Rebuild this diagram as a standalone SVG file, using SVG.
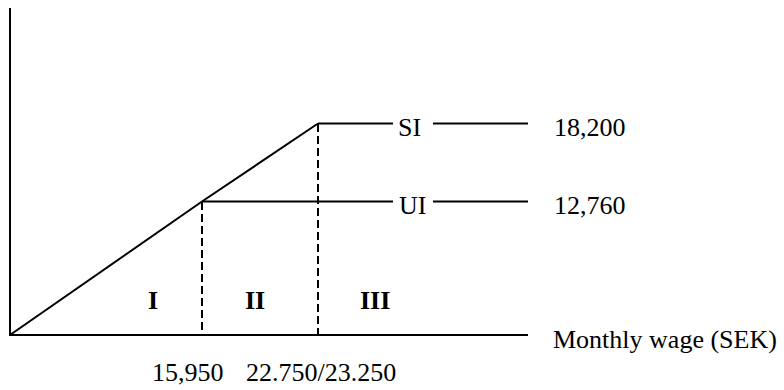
<svg xmlns="http://www.w3.org/2000/svg" width="784" height="390" viewBox="0 0 784 390">
<style>
.ln{stroke:#000;stroke-width:2;fill:none}
.ds{stroke:#000;stroke-width:2;fill:none;stroke-dasharray:8,4}
.t{font-family:"Liberation Serif","Times New Roman",serif;font-size:26px;fill:#000}
.b{font-family:"Liberation Serif","Times New Roman",serif;font-size:26px;font-weight:bold;fill:#000}
</style>
<rect width="784" height="390" fill="#fff"/>
<g id="axes">
<line class="ln" x1="10" y1="8" x2="10" y2="335"/>
<line class="ln" x1="9" y1="335" x2="528" y2="335"/>
</g>
<g id="connectors">
<polyline class="ln" points="10,335 202,201.5 318,123.5"/>
<line class="ds" x1="202" y1="202" x2="202" y2="334"/>
<line class="ds" x1="318" y1="124" x2="318" y2="334"/>
</g>
<g id="SI">
<line class="ln" x1="318" y1="123.5" x2="393" y2="123.5"/>
<text class="t" x="398" y="136">SI</text>
<line class="ln" x1="433" y1="123.5" x2="528" y2="123.5"/>
<text class="t" x="554" y="136">18,200</text>
</g>
<g id="UI">
<line class="ln" x1="202" y1="201.5" x2="393" y2="201.5"/>
<text class="t" x="399" y="214">UI</text>
<line class="ln" x1="433" y1="201.5" x2="528" y2="201.5"/>
<text class="t" x="554" y="214">12,760</text>
</g>
<g id="regions">
<text class="b" x="148" y="309">I</text>
<text class="b" x="245" y="309">II</text>
<text class="b" x="360" y="309">III</text>
</g>
<g id="labels">
<text class="t" x="553" y="348">Monthly wage (SEK)</text>
<text class="t" x="152" y="381">15,950</text>
<text class="t" x="246" y="381">22.750/23.250</text>
</g>
</svg>
